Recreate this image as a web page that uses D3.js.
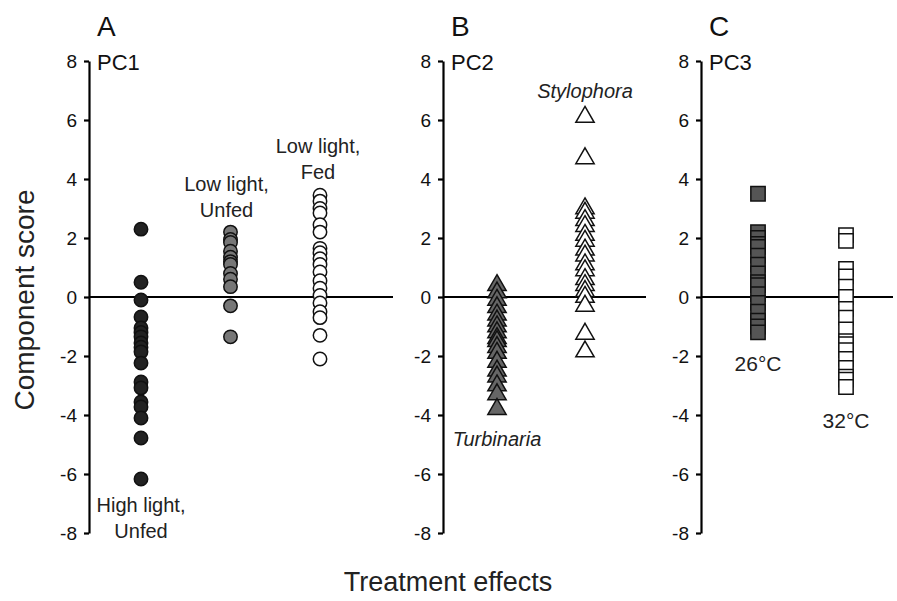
<!DOCTYPE html>
<html><head><meta charset="utf-8">
<script src="https://cdn.jsdelivr.net/npm/d3@7"></script>
<style>body{margin:0;background:#fff}svg{display:block}text{font-family:"Liberation Sans",Arial,sans-serif}</style>
</head><body><svg id="c" width="897" height="601"></svg>
<script>
const yTicks = [-8,-6,-4,-2,0,2,4,6,8];
const catsA = ["High light, Unfed","Low light, Unfed","Low light, Fed"];
const catsB = ["Turbinaria","Stylophora"];
const catsC = ["26°C","32°C"];
const highLightUnfed = [2.3,0.5,-0.1,-0.68,-1.05,-1.2,-1.35,-1.56,-1.7,-1.86,-2.24,-2.88,-3.08,-3.56,-3.73,-4.1,-4.78,-6.17];
const lowLightUnfed = [2.2,1.95,1.85,1.55,1.35,1.2,1.1,0.8,0.6,0.35,-0.3,-1.35];
const lowLightFed = [3.45,3.25,3.0,2.85,2.45,2.2,1.65,1.5,1.3,1.1,0.85,0.55,0.3,0.05,-0.2,-0.5,-0.7,-1.3,-2.1];
const turbinaria = [0.4,0.15,-0.1,-0.35,-0.6,-0.8,-1.0,-1.2,-1.4,-1.5,-1.7,-1.9,-2.2,-2.5,-2.7,-3.0,-3.3,-3.8];
const stylophora = [6.1,4.7,3.0,2.85,2.6,2.4,2.1,1.9,1.6,1.4,1.1,0.9,0.6,0.4,0.2,0.0,-0.3,-1.25,-1.85];
const temp26 = [3.5,2.2,2.0,1.8,1.7,1.4,1.1,0.8,0.5,0.4,0.1,-0.2,-0.5,-0.8,-1.0,-1.2];
const temp32 = [2.1,1.9,0.95,0.7,0.35,0.0,-0.4,-0.7,-1.1,-1.5,-1.6,-1.8,-2.1,-2.4,-2.7,-2.8,-3.05];

const svg = d3.select("#c");
const y = d3.scaleLinear().domain([-8,8]).range([533,61]);

const panels = [
  {letter:"A", pc:"PC1", ax:89, end:393, cats:catsA, range:[141,320],
   series:[{cat:catsA[0],vals:highLightUnfed,shape:"circle",fill:"#222"},
           {cat:catsA[1],vals:lowLightUnfed,shape:"circle",fill:"#777"},
           {cat:catsA[2],vals:lowLightFed,shape:"circle",fill:"#fff"}]},
  {letter:"B", pc:"PC2", ax:443, end:646, cats:catsB, range:[497,585],
   series:[{cat:catsB[0],vals:turbinaria,shape:"tri",fill:"#666"},
           {cat:catsB[1],vals:stylophora,shape:"tri",fill:"#fff"}]},
  {letter:"C", pc:"PC3", ax:701, end:893, cats:catsC, range:[758,846],
   series:[{cat:catsC[0],vals:temp26,shape:"sq",fill:"#555"},
           {cat:catsC[1],vals:temp32,shape:"sq",fill:"#fff"}]}
];

panels.forEach(p => {
  const x = d3.scalePoint().domain(p.cats).range(p.range);
  p.x = x;
  const g = svg.append("g").attr("transform",`translate(${p.ax},0)`);
  const axis = d3.axisLeft(y).tickValues(yTicks).tickSize(5).tickSizeOuter(0).tickFormat(d => String(d));
  g.call(axis);
  g.attr("font-size",19).attr("font-family","Liberation Sans, Arial, sans-serif");
  g.select(".domain").attr("stroke","#000").attr("stroke-width",2.2);
  g.selectAll(".tick line").attr("stroke","#000").attr("stroke-width",2.2);
  g.selectAll(".tick text").attr("font-size",19).style("font-size","19px").attr("fill","#111").attr("x",-12);
  svg.append("line").attr("x1",p.ax).attr("x2",p.end).attr("y1",y(0)).attr("y2",y(0)).attr("stroke","#000").attr("stroke-width",2.2);
  svg.append("text").attr("x",p.ax+8).attr("y",36).style("font-size","28px").attr("fill","#111").text(p.letter);
  svg.append("text").attr("x",p.ax+8).attr("y",70).style("font-size","22px").attr("fill","#111").text(p.pc);
  p.series.forEach(s => {
    const cx = x(s.cat);
    const sel = svg.append("g").selectAll("path").data(s.vals).enter();
    if (s.shape==="circle") {
      sel.append("circle").attr("cx",cx).attr("cy",d=>y(d)).attr("r",6.7)
        .attr("fill",s.fill).attr("stroke","#111").attr("stroke-width",1.5);
    } else {
      const sym = s.shape==="tri" ? d3.symbol().type(d3.symbolTriangle).size(145) : d3.symbol().type(d3.symbolSquare).size(205);
      sel.append("path").attr("d",sym).attr("transform",d=>`translate(${cx},${y(d)})`)
        .attr("fill",s.fill).attr("stroke","#111").attr("stroke-width",1.5);
    }
  });
});

function label(lines, xp, yb, size, gap, italic) {
  const t = svg.append("text").attr("text-anchor","middle").style("font-size",size+"px").attr("fill","#222");
  if (italic) t.style("font-style","italic");
  lines.forEach((l,i)=> t.append("tspan").attr("x",xp).attr("y",yb+i*gap).text(l));
}
const pA = panels[0], pB = panels[1], pC = panels[2];
label(["High light,","Unfed"], pA.x(catsA[0]), 512, 20, 26);
label(["Low light,","Unfed"], pA.x(catsA[1])-4, 191, 20, 26);
label(["Low light,","Fed"], pA.x(catsA[2])-2, 153, 20, 26);
label(["Stylophora"], pB.x(catsB[1]), 98, 20, 0, true);
label(["Turbinaria"], pB.x(catsB[0]), 446, 20, 0, true);
label([catsC[0]], pC.x(catsC[0]), 371, 21, 0);
label([catsC[1]], pC.x(catsC[1]), 428, 21, 0);

svg.append("text").attr("transform","translate(34,300) rotate(-90)").attr("text-anchor","middle")
  .style("font-size","28px").attr("fill","#222").text("Component score");
svg.append("text").attr("x",448).attr("y",591).attr("text-anchor","middle")
  .style("font-size","27px").attr("fill","#222").text("Treatment effects");
</script></body></html>
